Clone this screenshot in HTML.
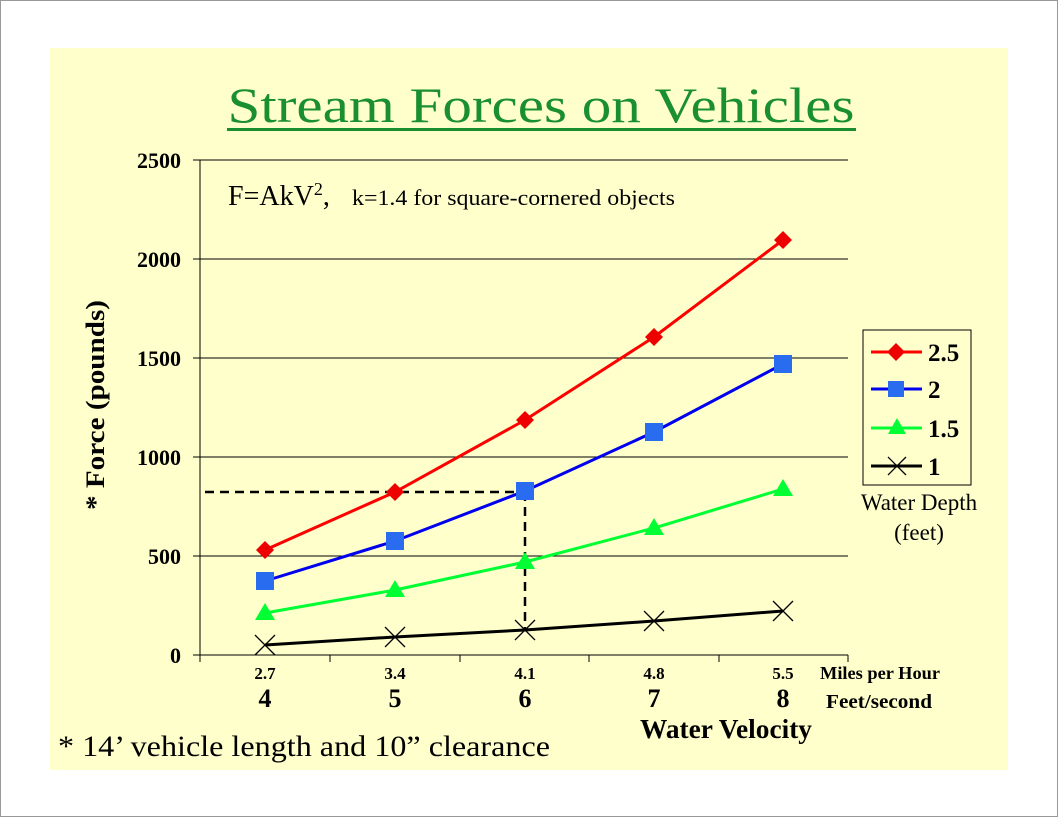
<!DOCTYPE html>
<html><head><meta charset="utf-8"><style>
html,body{margin:0;padding:0;background:#fff;}
svg{display:block;font-family:"Liberation Serif",serif;}
</style></head><body>
<svg width="1058" height="817" viewBox="0 0 1058 817">
<rect x="0.5" y="0.5" width="1057" height="816" fill="#fff" stroke="#999"/>
<rect x="50" y="48" width="958" height="722" fill="#ffffcc"/>
<text x="541" y="122" font-size="50" fill="#1a8f30" text-anchor="middle" textLength="627" lengthAdjust="spacingAndGlyphs">Stream Forces on Vehicles</text>
<rect x="227" y="128" width="629" height="3" fill="#1a8f30"/>
<g stroke="#000" stroke-width="1">
<line x1="193" y1="160" x2="848" y2="160"/>
<line x1="193" y1="259" x2="848" y2="259"/>
<line x1="193" y1="358" x2="848" y2="358"/>
<line x1="193" y1="457" x2="848" y2="457"/>
<line x1="193" y1="556" x2="848" y2="556"/>
<line x1="193" y1="655" x2="848" y2="655"/>
<line x1="200" y1="160" x2="200" y2="662"/>
<line x1="330" y1="655" x2="330" y2="662"/>
<line x1="460" y1="655" x2="460" y2="662"/>
<line x1="589" y1="655" x2="589" y2="662"/>
<line x1="719" y1="655" x2="719" y2="662"/>
<line x1="848" y1="655" x2="848" y2="662"/>
</g>
<g font-size="22" font-weight="bold" text-anchor="end">
<text x="181" y="168">2500</text><text x="181" y="267">2000</text><text x="181" y="366">1500</text>
<text x="181" y="465">1000</text><text x="181" y="564">500</text><text x="181" y="663">0</text>
</g>
<text transform="translate(104,405) rotate(-90)" font-size="26" font-weight="bold" text-anchor="middle" textLength="210" lengthAdjust="spacingAndGlyphs">* Force (pounds)</text>
<text x="228" y="205" font-size="28">F=AkV<tspan font-size="18" dy="-10">2</tspan><tspan dy="10">, </tspan></text>
<text x="352" y="205" font-size="22" textLength="323" lengthAdjust="spacingAndGlyphs">k=1.4 for square-cornered objects</text>
<g stroke="#000" stroke-width="2.5" stroke-dasharray="9,6" fill="none">
<line x1="205" y1="492" x2="525" y2="492"/><line x1="525" y1="492" x2="525" y2="630"/>
</g>
<g font-weight="bold" text-anchor="middle">
<g font-size="17"><text x="265" y="679">2.7</text><text x="395" y="679">3.4</text><text x="525" y="679">4.1</text><text x="654" y="679">4.8</text><text x="783" y="679">5.5</text></g>
<g font-size="26"><text x="265" y="707">4</text><text x="395" y="707">5</text><text x="525" y="707">6</text><text x="654" y="707">7</text><text x="783" y="707">8</text></g>
<text x="880" y="679" font-size="18" textLength="120" lengthAdjust="spacingAndGlyphs">Miles per Hour</text>
<text x="879" y="708" font-size="20" textLength="106" lengthAdjust="spacingAndGlyphs">Feet/second</text>
<text x="726" y="738" font-size="27" textLength="172" lengthAdjust="spacingAndGlyphs">Water Velocity</text>
</g>
<text x="58" y="756" font-size="30" textLength="492" lengthAdjust="spacingAndGlyphs">* 14’ vehicle length and 10” clearance</text>
<polyline points="265,645 395,637 525,630 654,621 783,611" fill="none" stroke="#000" stroke-width="3"/>
<g stroke="#000" stroke-width="1.3">
<path d="M255,635l20,20M275,635l-20,20M385,627l20,20M405,627l-20,20M515,620l20,20M535,620l-20,20M644,611l20,20M664,611l-20,20M773,601l20,20M793,601l-20,20"/>
</g>
<polyline points="265,613 395,590 525,562 654,528 783,489" fill="none" stroke="#00ff33" stroke-width="3"/>
<g fill="#00ff33">
<path d="M265,603l10,17h-20z"/><path d="M395,580l10,17h-20z"/><path d="M525,552l10,17h-20z"/><path d="M654,518l10,17h-20z"/><path d="M783,479l10,17h-20z"/>
</g>
<polyline points="265,581 395,541 525,491 654,432 783,364" fill="none" stroke="#0000ee" stroke-width="3"/>
<g fill="#2a6cf0">
<rect x="256" y="572" width="18" height="18"/><rect x="386" y="532" width="18" height="18"/><rect x="516" y="482" width="18" height="18"/><rect x="645" y="423" width="18" height="18"/><rect x="774" y="355" width="18" height="18"/>
</g>
<polyline points="265,550 395,492 525,420 654,337 783,240" fill="none" stroke="#ff0000" stroke-width="3"/>
<g fill="#ee0000">
<path d="M265,541l9,9-9,9-9-9z"/><path d="M395,483l9,9-9,9-9-9z"/><path d="M525,411l9,9-9,9-9-9z"/><path d="M654,328l9,9-9,9-9-9z"/><path d="M783,231l9,9-9,9-9-9z"/>
</g>
<rect x="863" y="330" width="108" height="155" fill="#ffffcc" stroke="#000" stroke-width="1"/>
<line x1="871" y1="352" x2="922" y2="352" stroke="#ff0000" stroke-width="3"/><path d="M896,343l9,9-9,9-9-9z" fill="#ee0000"/>
<line x1="871" y1="389" x2="922" y2="389" stroke="#0000ee" stroke-width="3"/><rect x="888" y="381" width="16" height="16" fill="#2a6cf0"/>
<line x1="871" y1="428" x2="922" y2="428" stroke="#00ff33" stroke-width="3"/><path d="M897,418l9,16h-18z" fill="#00ff33"/>
<line x1="871" y1="466" x2="922" y2="466" stroke="#000" stroke-width="3"/><path d="M888,457l18,18M906,457l-18,18" stroke="#000" stroke-width="1.3"/>
<g font-size="25" font-weight="bold">
<text x="928" y="361">2.5</text><text x="928" y="398">2</text><text x="928" y="437">1.5</text><text x="928" y="475">1</text>
</g>
<g font-size="23" text-anchor="middle"><text x="919" y="510">Water Depth</text><text x="919" y="540">(feet)</text></g>
</svg>
</body></html>
